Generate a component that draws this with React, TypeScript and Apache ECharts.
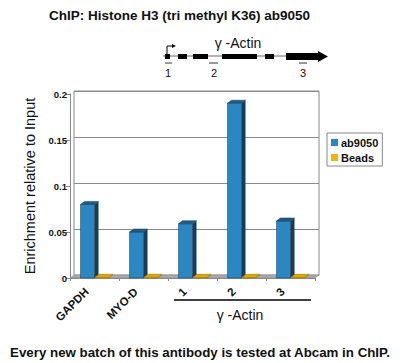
import React, { useEffect, useRef } from "react";
import * as echarts from "echarts";

const categories = ["GAPDH", "MYO-D", "1", "2", "3"];
const ab9050 = [0.08, 0.05, 0.059, 0.19, 0.062];
const beads = [0.0008, 0.0008, 0.0008, 0.0008, 0.0008];
const yTicks = { min: 0, max: 0.2, interval: 0.05 };
const seriesNames = ["ab9050", "Beads"];

const FONT = "'Liberation Sans', Arial, sans-serif";
const DX = 4;
const DY = -3;

function make3DRender(offset: number, front: string, side: string, top: string) {
  return (params: any, api: any) => {
    const cat = api.value(0);
    const v = api.value(1);
    const base = api.coord([cat, 0]);
    const tp = api.coord([cat, v]);
    const w = 14;
    const x0 = base[0] + offset - w / 2;
    const yb = base[1];
    const yt = tp[1];
    return {
      type: "group",
      children: [
        {
          type: "rect",
          shape: { x: x0, y: yt, width: w, height: yb - yt },
          style: { fill: front, stroke: side, lineWidth: 0.5 },
        },
        {
          type: "polygon",
          shape: {
            points: [
              [x0 + w, yt],
              [x0 + w + DX, yt + DY],
              [x0 + w + DX, yb + DY],
              [x0 + w, yb],
            ],
          },
          style: { fill: side },
        },
        {
          type: "polygon",
          shape: {
            points: [
              [x0, yt],
              [x0 + DX, yt + DY],
              [x0 + w + DX, yt + DY],
              [x0 + w, yt],
            ],
          },
          style: { fill: top, stroke: side, lineWidth: 0.5 },
        },
      ],
    };
  };
}

export default function App() {
  const ref = useRef<HTMLDivElement>(null);
  useEffect(() => {
    if (!ref.current) return;
    const chart = echarts.init(ref.current, undefined, { renderer: "svg" });
    const gray = "#8a8a8a";
    const option: any = {
      animation: false,
      backgroundColor: "#ffffff",
      textStyle: { fontFamily: FONT },
      title: [
        {
          text: "ChIP: Histone H3 (tri methyl K36) ab9050",
          left: 44,
          top: 3,
          textStyle: { fontFamily: FONT, fontSize: 13.5, fontWeight: "bold", color: "#111" },
        },
        {
          text: "Every new batch of this antibody is tested at Abcam in ChIP.",
          left: "center",
          top: 341,
          textStyle: { fontFamily: FONT, fontSize: 13.3, fontWeight: "bold", color: "#111" },
        },
      ],
      legend: {
        orient: "vertical",
        left: 327,
        top: 133,
        borderColor: "#888",
        borderWidth: 1,
        padding: [4, 4, 3, 4],
        itemGap: 4,
        itemWidth: 7,
        itemHeight: 7,
        icon: "rect",
        data: seriesNames,
        textStyle: { fontFamily: FONT, fontSize: 11, fontWeight: "bold", color: "#111", padding: [0, 0, 0, -2] },
      },
      grid: [
        { left: 74, right: 81, top: 91, bottom: 88, show: true, borderColor: gray, borderWidth: 1, backgroundColor: "#fff" },
        { left: 70, right: 85, top: 94, bottom: 85 },
      ],
      xAxis: [
        { gridIndex: 0, type: "category", data: categories, show: false },
        {
          gridIndex: 1,
          type: "category",
          data: categories,
          axisLine: { lineStyle: { color: gray } },
          axisTick: { show: true, length: 3, lineStyle: { color: gray } },
          axisLabel: {
            rotate: 45,
            margin: 4,
            padding: [0, 11, 0, 0],
            fontFamily: FONT,
            fontSize: 11.5,
            fontWeight: "bold",
            color: "#111",
          },
        },
      ],
      yAxis: [
        {
          gridIndex: 0,
          type: "value",
          min: yTicks.min,
          max: yTicks.max,
          interval: yTicks.interval,
          axisLine: { show: false },
          axisTick: { show: false },
          axisLabel: { show: false },
          splitLine: { show: true, lineStyle: { color: gray, width: 1 } },
        },
        {
          gridIndex: 1,
          type: "value",
          min: yTicks.min,
          max: yTicks.max,
          interval: yTicks.interval,
          axisLine: { show: true, lineStyle: { color: gray } },
          axisTick: { show: true, length: 4, lineStyle: { color: gray } },
          splitLine: { show: false },
          axisLabel: { fontFamily: FONT, fontSize: 9.5, fontWeight: "bold", color: "#111", margin: 3 },
          name: "Enrichment relative to Input",
          nameLocation: "middle",
          nameGap: 33,
          nameRotate: 90,
          nameTextStyle: { fontFamily: FONT, fontSize: 14.5, color: "#111" },
        },
      ],
      series: [
        {
          name: seriesNames[0],
          type: "custom",
          xAxisIndex: 1,
          yAxisIndex: 1,
          itemStyle: { color: "#2a87c2" },
          renderItem: make3DRender(-7, "#2a87c2", "#163c5a", "#1f5b87"),
          encode: { x: 0, y: 1 },
          data: ab9050.map((v, i) => [i, v]),
          z: 5,
        },
        {
          name: seriesNames[1],
          type: "custom",
          xAxisIndex: 1,
          yAxisIndex: 1,
          itemStyle: { color: "#f2b600" },
          renderItem: make3DRender(7.5, "#f2b600", "#a07800", "#e0a800"),
          encode: { x: 0, y: 1 },
          data: beads.map((v, i) => [i, v]),
          z: 5,
        },
      ],
      graphic: [
        {
          type: "polygon",
          z: 1,
          shape: { points: [[70, 278], [315, 278], [319, 275], [74, 275]] },
          style: { fill: "#a8a8a8", stroke: "#8a8a8a", lineWidth: 0.5 },
        },
        { type: "line", shape: { x1: 163, y1: 56, x2: 320, y2: 56 }, style: { stroke: "#666", lineWidth: 1 } },
        { type: "rect", shape: { x: 165, y: 54, width: 5, height: 5 }, style: { fill: "#000" } },
        { type: "rect", shape: { x: 178, y: 54, width: 9, height: 5 }, style: { fill: "#000" } },
        { type: "rect", shape: { x: 193, y: 54, width: 15, height: 5 }, style: { fill: "#000" } },
        { type: "rect", shape: { x: 222, y: 54, width: 35, height: 5 }, style: { fill: "#000" } },
        { type: "rect", shape: { x: 265, y: 54, width: 9, height: 5 }, style: { fill: "#000" } },
        { type: "rect", shape: { x: 286, y: 53, width: 33, height: 7 }, style: { fill: "#000" } },
        { type: "polygon", shape: { points: [[318, 51], [328, 56.5], [318, 62]] }, style: { fill: "#000" } },
        { type: "polyline", shape: { points: [[167, 55], [167, 46], [173, 46]] }, style: { stroke: "#000", lineWidth: 1, fill: null } },
        { type: "polygon", shape: { points: [[172, 44], [176, 46], [172, 48]] }, style: { fill: "#000" } },
        {
          type: "text",
          x: 238,
          y: 43,
          style: { text: "γ -Actin", font: `14px ${FONT}`, fill: "#111", align: "center", verticalAlign: "middle" },
        },
        { type: "line", shape: { x1: 165, y1: 63, x2: 172, y2: 63 }, style: { stroke: "#333", lineWidth: 1 } },
        { type: "line", shape: { x1: 209, y1: 63, x2: 218, y2: 63 }, style: { stroke: "#333", lineWidth: 1 } },
        { type: "line", shape: { x1: 299, y1: 63, x2: 307, y2: 63 }, style: { stroke: "#333", lineWidth: 1 } },
        { type: "text", x: 168, y: 73, style: { text: "1", font: `11px ${FONT}`, fill: "#111", align: "center", verticalAlign: "middle" } },
        { type: "text", x: 214, y: 73, style: { text: "2", font: `11px ${FONT}`, fill: "#111", align: "center", verticalAlign: "middle" } },
        { type: "text", x: 303, y: 73, style: { text: "3", font: `11px ${FONT}`, fill: "#111", align: "center", verticalAlign: "middle" } },
        { type: "line", shape: { x1: 174, y1: 300, x2: 311, y2: 300 }, style: { stroke: "#000", lineWidth: 1.5 } },
        {
          type: "text",
          x: 240,
          y: 315,
          style: { text: "γ -Actin", font: `14px ${FONT}`, fill: "#111", align: "center", verticalAlign: "middle" },
        },
      ],
    };
    chart.setOption(option);
    return () => chart.dispose();
  }, []);
  return <div ref={ref} style={{ position: "absolute", left: 0, top: 0, width: 400, height: 363 }} />;
}
